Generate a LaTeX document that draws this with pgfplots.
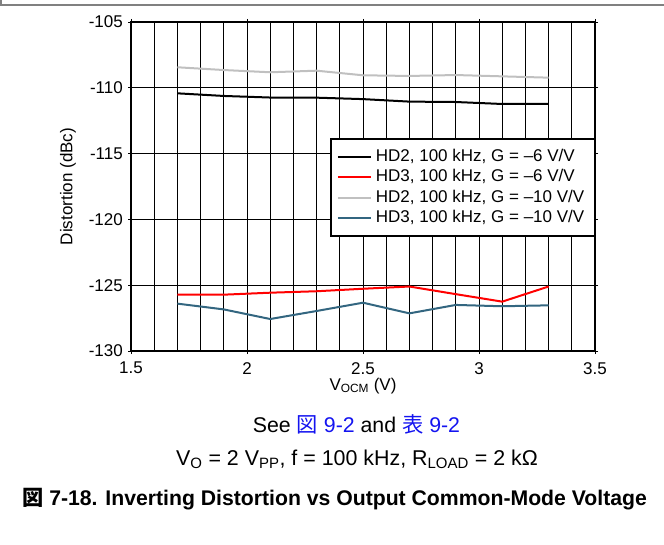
\documentclass[border=0pt]{standalone}
\usepackage{fontspec}
\setmainfont{Liberation Sans}
\newfontfamily\cjk{Noto Sans CJK JP}
\usepackage{pgfplots}
\pgfplotsset{compat=1.18}
\definecolor{tiblue}{RGB}{51,102,128}
\definecolor{ltgray}{RGB}{192,192,192}
\definecolor{linkblue}{RGB}{20,20,240}
\begin{document}
\begin{tikzpicture}[x=1pt,y=1pt]
\path[use as bounding box] (0,0) rectangle (664,544);
\draw[gray,line width=1.5pt] (1,544) -- (1,539) -- (664,539);
\begin{axis}[
  at={(131pt,193pt)}, anchor=south west,
  scale only axis, width=464pt, height=329pt,
  xmin=1.5, xmax=3.5, ymin=-130, ymax=-105,
  xtick={1.5,2,2.5,3,3.5}, xticklabels={1.5,2,2.5,3,3.5},
  ytick={-130,-125,-120,-115,-110,-105},
  yticklabels={-130,-125,-120,-115,-110,-105},
  minor x tick num=4,
  xmajorgrids, xminorgrids, ymajorgrids,
  grid style={black, line width=0.7pt},
  minor grid style={black, line width=0.7pt},
  axis line style={line width=2pt},
  tick align=outside, major tick length=3pt, minor tick length=0pt,
  tick style={black, line width=0.7pt},
  tick label style={font=\fontsize{17}{20}\selectfont},
  yticklabel style={inner xsep=0pt, xshift=-5pt},
  xticklabel style={inner ysep=0pt, yshift=-8pt},
  xlabel={V\textsubscript{OCM} (V)},
  ylabel={Distortion (dBc)},
  label style={font=\fontsize{17}{20}\selectfont},
  xlabel style={at={(axis description cs:0.5,-0.106)}, anchor=center},
  ylabel style={at={(axis description cs:-0.136,0.5)}, anchor=center, rotate=0},
  legend cell align=left,
  legend style={at={(1,0.647)}, anchor=north east, draw=black, line width=1.5pt,
    font=\fontsize{17}{20}\selectfont, row sep=0.4pt, inner xsep=6pt, inner ysep=8pt,
    nodes={text height=12.5pt, text depth=3.5pt, inner ysep=2pt, inner xsep=4pt}},
  legend image code/.code={\draw[#1] (0pt,0pt) -- (33pt,0pt);},
  every axis plot/.append style={line width=2pt},
]
\addplot[black] coordinates {(1.7,-110.42) (1.9,-110.62) (2.1,-110.74) (2.3,-110.75) (2.5,-110.86) (2.7,-111.05) (2.9,-111.08) (3.1,-111.23) (3.3,-111.23)};
\addlegendentry{HD2, 100 kHz, G = --6 V/V}
\addplot[red] coordinates {(1.7,-125.72) (1.9,-125.72) (2.1,-125.57) (2.3,-125.46) (2.5,-125.27) (2.7,-125.1) (2.9,-125.68) (3.1,-126.25) (3.3,-125.1)};
\addlegendentry{HD3, 100 kHz, G = --6 V/V}
\addplot[ltgray] coordinates {(1.7,-108.44) (1.9,-108.65) (2.1,-108.82) (2.3,-108.7) (2.5,-109.05) (2.7,-109.1) (2.9,-109.03) (3.1,-109.13) (3.3,-109.23)};
\addlegendentry{HD2, 100 kHz, G = --10 V/V}
\addplot[tiblue] coordinates {(1.7,-126.4) (1.9,-126.84) (2.1,-127.57) (2.3,-126.96) (2.5,-126.33) (2.7,-127.14) (2.9,-126.5) (3.1,-126.6) (3.3,-126.53)};
\addlegendentry{HD3, 100 kHz, G = --10 V/V}
\end{axis}
\node[font=\fontsize{21.3}{25}\selectfont, anchor=base west, inner sep=0pt] at (252.7,111.3) {See {\color{linkblue}{\cjk 図} 9-2} and {\color{linkblue}{\cjk 表} 9-2}};
\node[font=\fontsize{21.4}{25}\selectfont, anchor=base, inner sep=0pt] at (357,79) {V\textsubscript{O} = 2 V\textsubscript{PP}, f = 100 kHz, R\textsubscript{LOAD} = 2 kΩ};
\node[font=\fontsize{21.2}{25}\selectfont\bfseries, anchor=base west, inner sep=0pt] at (22,38.3) {{\cjk\bfseries 図} 7-18. Inverting Distortion vs Output Common-Mode Voltage};
\end{tikzpicture}
\end{document}
